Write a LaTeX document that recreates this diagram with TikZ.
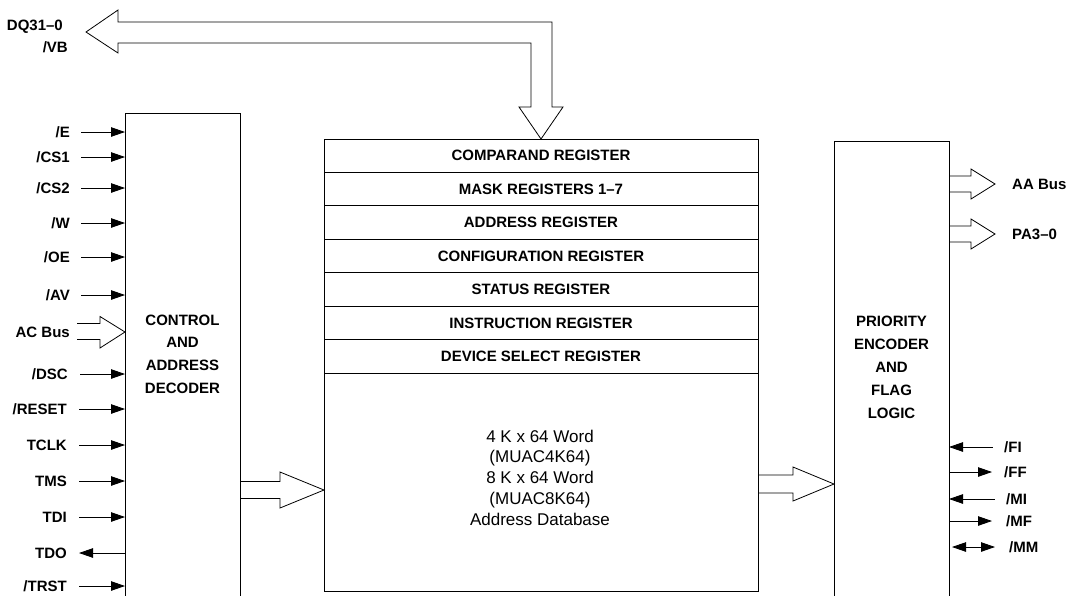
\documentclass[tikz,border=0pt]{standalone}
\usepackage{fontspec}
\setmainfont{Liberation Sans}
\usepackage{tikz}
\usetikzlibrary{positioning}
\usetikzlibrary{arrows.meta}

\begin{document}
\begin{tikzpicture}[x=1pt,y=-1pt,
  box/.style={draw, line width=0.9pt, inner sep=0pt, outer sep=0pt},
  reg/.style={box, minimum width=434pt, minimum height=33.43pt, font=\fontsize{15}{18}\selectfont\bfseries},
  lbl/.style={inner sep=0pt, font=\fontsize{15}{18}\selectfont\bfseries, text height=10.7pt, text depth=0pt},
  bus/.style={draw, line width=0.8pt, line join=miter},
  wire/.style={line width=0.8pt},
  >={Triangle[length=14pt,width=9.5pt]}]

 \useasboundingbox (0,0) rectangle (1069,595);

 % blocks
 \node[box, minimum width=115pt, minimum height=500pt, anchor=north west] (ctrl) at (125,113) {};
 \node[box, minimum width=115pt, minimum height=500pt, anchor=north west] (prio) at (834,141) {};

 \node[reg, anchor=north west] (cmp) at (324,139) {COMPARAND REGISTER};
 \node[reg, below=0pt of cmp] (mask) {MASK REGISTERS 1–7};
 \node[reg, below=0pt of mask] (addr) {ADDRESS REGISTER};
 \node[reg, below=0pt of addr] (conf) {CONFIGURATION REGISTER};
 \node[reg, below=0pt of conf] (stat) {STATUS REGISTER};
 \node[reg, below=0pt of stat] (instr) {INSTRUCTION REGISTER};
 \node[reg, below=0pt of instr] (dsel) {DEVICE SELECT REGISTER};
 \node[box, minimum width=434pt, minimum height=218pt, below=0pt of dsel] (db) {};

 \node[align=center, font=\fontsize{15}{22.7}\selectfont\bfseries] (ctrltxt) at (182.5,354) {CONTROL\\AND\\ADDRESS\\DECODER};
 \node[align=center, font=\fontsize{15}{23}\selectfont\bfseries] (priotxt) at (891.5,367.5) {PRIORITY\\ENCODER\\AND\\FLAG\\LOGIC};
 \node[align=center, font=\fontsize{17}{20.75}\selectfont] (dbtxt) at (540,477.5) {4 K x 64 Word\\(MUAC4K64)\\8 K x 64 Word\\(MUAC8K64)\\Address Database};

 % data bus
 \node[lbl, anchor=east] (dq) at (63,25) {DQ31–0};
 \node[lbl, anchor=east] (vb) at (68,47) {/VB};
 \draw[bus] (cmp.north) -- ++(-22,-32) -- ++(12,0) -- ++(0,-64) -- ++(-413,0) -- ++(0,10)
   -- ++(-32,-21) -- ++(32,-22) -- ++(0,12) -- ++(434,0) -- ++(0,85) -- ++(11,0) -- cycle;

 % control inputs
 \node[lbl, anchor=east] (e) at (70,132) {/E};
 \draw[wire,->] ([xshift=11pt]e.east) -- (ctrl.west |- e.east);
 \node[lbl, anchor=east] (cs1) at (70,157) {/CS1};
 \draw[wire,->] ([xshift=11pt]cs1.east) -- (ctrl.west |- cs1.east);
 \node[lbl, anchor=east] (cs2) at (70,188) {/CS2};
 \draw[wire,->] ([xshift=11pt]cs2.east) -- (ctrl.west |- cs2.east);
 \node[lbl, anchor=east] (w) at (70,223) {/W};
 \draw[wire,->] ([xshift=11pt]w.east) -- (ctrl.west |- w.east);
 \node[lbl, anchor=east] (oe) at (70,257) {/OE};
 \draw[wire,->] ([xshift=11pt]oe.east) -- (ctrl.west |- oe.east);
 \node[lbl, anchor=east] (av) at (70,295) {/AV};
 \draw[wire,->] ([xshift=11pt]av.east) -- (ctrl.west |- av.east);

 \node[lbl, anchor=east] (acbus) at (70,332) {AC Bus};
 \draw[bus] ([xshift=7pt]acbus.east) ++(0,-8.5) -- ++(23,0) -- ++(0,-7) -- (ctrl.west |- acbus.east)
   -- ++(-25,16) -- ++(0,-8.5) -- ++(-23,0);

 \node[lbl, anchor=east] (dsc) at (68,374) {/DSC};
 \draw[wire,->] ([xshift=12pt]dsc.east) -- (ctrl.west |- dsc.east);
 \node[lbl, anchor=east] (reset) at (67,409) {/RESET};
 \draw[wire,->] ([xshift=12pt]reset.east) -- (ctrl.west |- reset.east);
 \node[lbl, anchor=east] (tclk) at (67,445) {TCLK};
 \draw[wire,->] ([xshift=12pt]tclk.east) -- (ctrl.west |- tclk.east);
 \node[lbl, anchor=east] (tms) at (67,481) {TMS};
 \draw[wire,->] ([xshift=12pt]tms.east) -- (ctrl.west |- tms.east);
 \node[lbl, anchor=east] (tdi) at (67,517) {TDI};
 \draw[wire,->] ([xshift=12pt]tdi.east) -- (ctrl.west |- tdi.east);
 \node[lbl, anchor=east] (tdo) at (67,553) {TDO};
 \draw[wire,->] (ctrl.west |- tdo.east) -- ([xshift=12pt]tdo.east);
 \node[lbl, anchor=east] (trst) at (67,586) {/TRST};
 \draw[wire,->] ([xshift=12pt]trst.east) -- (ctrl.west |- trst.east);

 % internal buses
 \coordinate (lbus) at ([yshift=-8pt]db.west);
 \draw[bus] (ctrl.east |- lbus) ++(0,-8.5) -- ++(40,0) -- ++(0,-9.5) -- (lbus)
   -- ++(-44,18) -- ++(0,-9.5) -- ++(-40,0);
 \coordinate (rbus) at ([yshift=-2pt]db.east);
 \draw[bus] (rbus) ++(0,-9) -- ++(35,0) -- ++(0,-8) -- (prio.west |- rbus)
   -- ++(-41,17) -- ++(0,-8) -- ++(-35,0);

 % priority outputs
 \node[lbl, anchor=west] (aabus) at (1012,184) {AA Bus};
 \draw[bus] (prio.east |- aabus.west) ++(0,-8) -- ++(22,0) -- ++(0,-7) -- ([xshift=-17pt]aabus.west)
   -- ++(-24,15) -- ++(0,-7) -- ++(-22,0);
 \node[lbl, anchor=west] (pa) at (1012,234) {PA3–0};
 \draw[bus] (prio.east |- pa.west) ++(0,-8) -- ++(22,0) -- ++(0,-7) -- ([xshift=-17pt]pa.west)
   -- ++(-24,15) -- ++(0,-7) -- ++(-22,0);

 % flags
 \node[lbl, anchor=west] (fi) at (1004,447) {/FI};
 \draw[wire,<-] (prio.east |- fi.west) -- ([xshift=-11pt]fi.west);
 \node[lbl, anchor=west] (ff) at (1004,472) {/FF};
 \draw[wire,->] (prio.east |- ff.west) -- ([xshift=-12pt]ff.west);
 \node[lbl, anchor=west] (mi) at (1006,499) {/MI};
 \draw[wire,<-] (prio.east |- mi.west) -- ([xshift=-11pt]mi.west);
 \node[lbl, anchor=west] (mf) at (1006,521) {/MF};
 \draw[wire,->] (prio.east |- mf.west) -- ([xshift=-14pt]mf.west);
 \node[lbl, anchor=west] (mm) at (1009,547) {/MM};
 \draw[wire,<->] (prio.east |- mm.west) ++(3,0) -- ([xshift=-14pt]mm.west);

\end{tikzpicture}
\end{document}
